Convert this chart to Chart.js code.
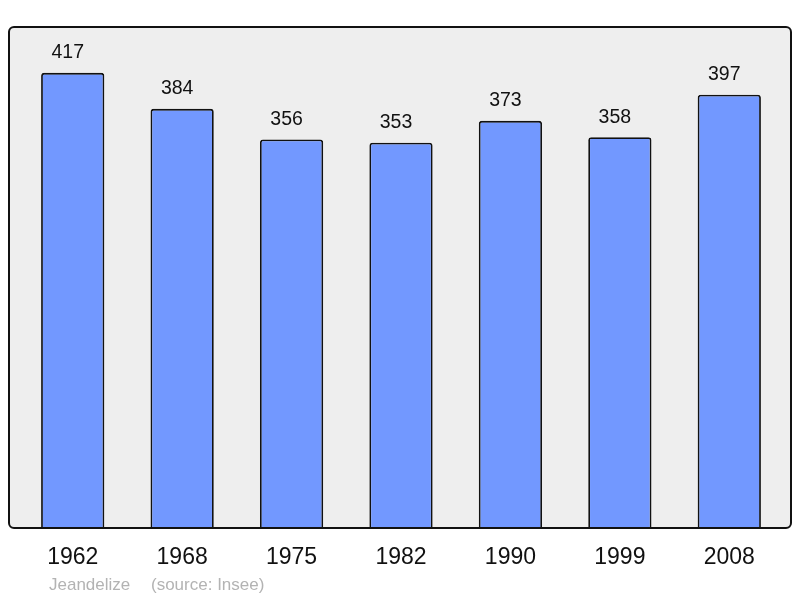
<!DOCTYPE html>
<html><head><meta charset="utf-8">
<script src="https://cdn.jsdelivr.net/npm/chart.js@4/dist/chart.umd.min.js"></script>
<style>html,body{margin:0;padding:0;background:#fff}#c{display:block}</style>
</head><body>
<canvas id="c" width="800" height="598"></canvas>
<script>
const categories = ["1962","1968","1975","1982","1990","1999","2008"];
const population = [417,384,356,353,373,358,397];
const footerAuthor = "Jeandelize";
const footerSource = "(source: Insee)";

const FONT = '"Liberation Sans", Arial, sans-serif';

const boxPlugin = {
  id: 'box',
  beforeDraw(chart) {
    const ctx = chart.ctx;
    const x0 = 9, y0 = 27, x1 = 791, y1 = 528, r = 5;
    ctx.save();
    ctx.beginPath();
    ctx.roundRect(x0, y0, x1 - x0, y1 - y0, r);
    ctx.fillStyle = '#eeeeee';
    ctx.fill();
    ctx.restore();
  },
  afterDatasetsDraw(chart) {
    const ctx = chart.ctx;
    const x0 = 9, y0 = 27, x1 = 791, y1 = 528, r = 5;
    ctx.save();
    ctx.beginPath();
    ctx.roundRect(x0, y0, x1 - x0, y1 - y0, r);
    ctx.lineWidth = 2;
    ctx.strokeStyle = '#111';
    ctx.stroke();
    const meta = chart.getDatasetMeta(0);
    ctx.fillStyle = '#111';
    ctx.textAlign = 'center';
    ctx.textBaseline = 'alphabetic';
    ctx.font = '19.5px ' + FONT;
    meta.data.forEach((bar, i) => {
      ctx.fillText(String(population[i]), bar.x - 5, bar.y - 14.5);
    });
    ctx.font = '23px ' + FONT;
    const xs = chart.scales.x;
    categories.forEach((c, i) => {
      ctx.fillText(c, xs.getPixelForValue(i), 564);
    });
    ctx.font = '17px ' + FONT;
    ctx.fillStyle = '#b3b3b3';
    ctx.textAlign = 'left';
    ctx.fillText(footerAuthor, 49, 590);
    ctx.fillText(footerSource, 151, 590);
    ctx.restore();
  }
};

new Chart(document.getElementById('c'), {
  type: 'bar',
  data: {
    labels: categories,
    datasets: [{
      data: population,
      backgroundColor: '#7298ff',
      borderColor: '#111',
      borderWidth: 1.8,
      borderSkipped: 'bottom',
      borderRadius: {topLeft: 3, topRight: 3, bottomLeft: 0, bottomRight: 0},
      barPercentage: 0.578,
      categoryPercentage: 1
    }]
  },
  options: {
    responsive: false,
    animation: false,
    layout: {padding: {left: 18, right: 16, top: 27, bottom: 70}},
    plugins: {legend: {display: false}, tooltip: {enabled: false}},
    scales: {
      x: {display: false, offset: true},
      y: {display: false, min: 0, max: 459}
    }
  },
  plugins: [boxPlugin]
});
</script>
</body></html>
